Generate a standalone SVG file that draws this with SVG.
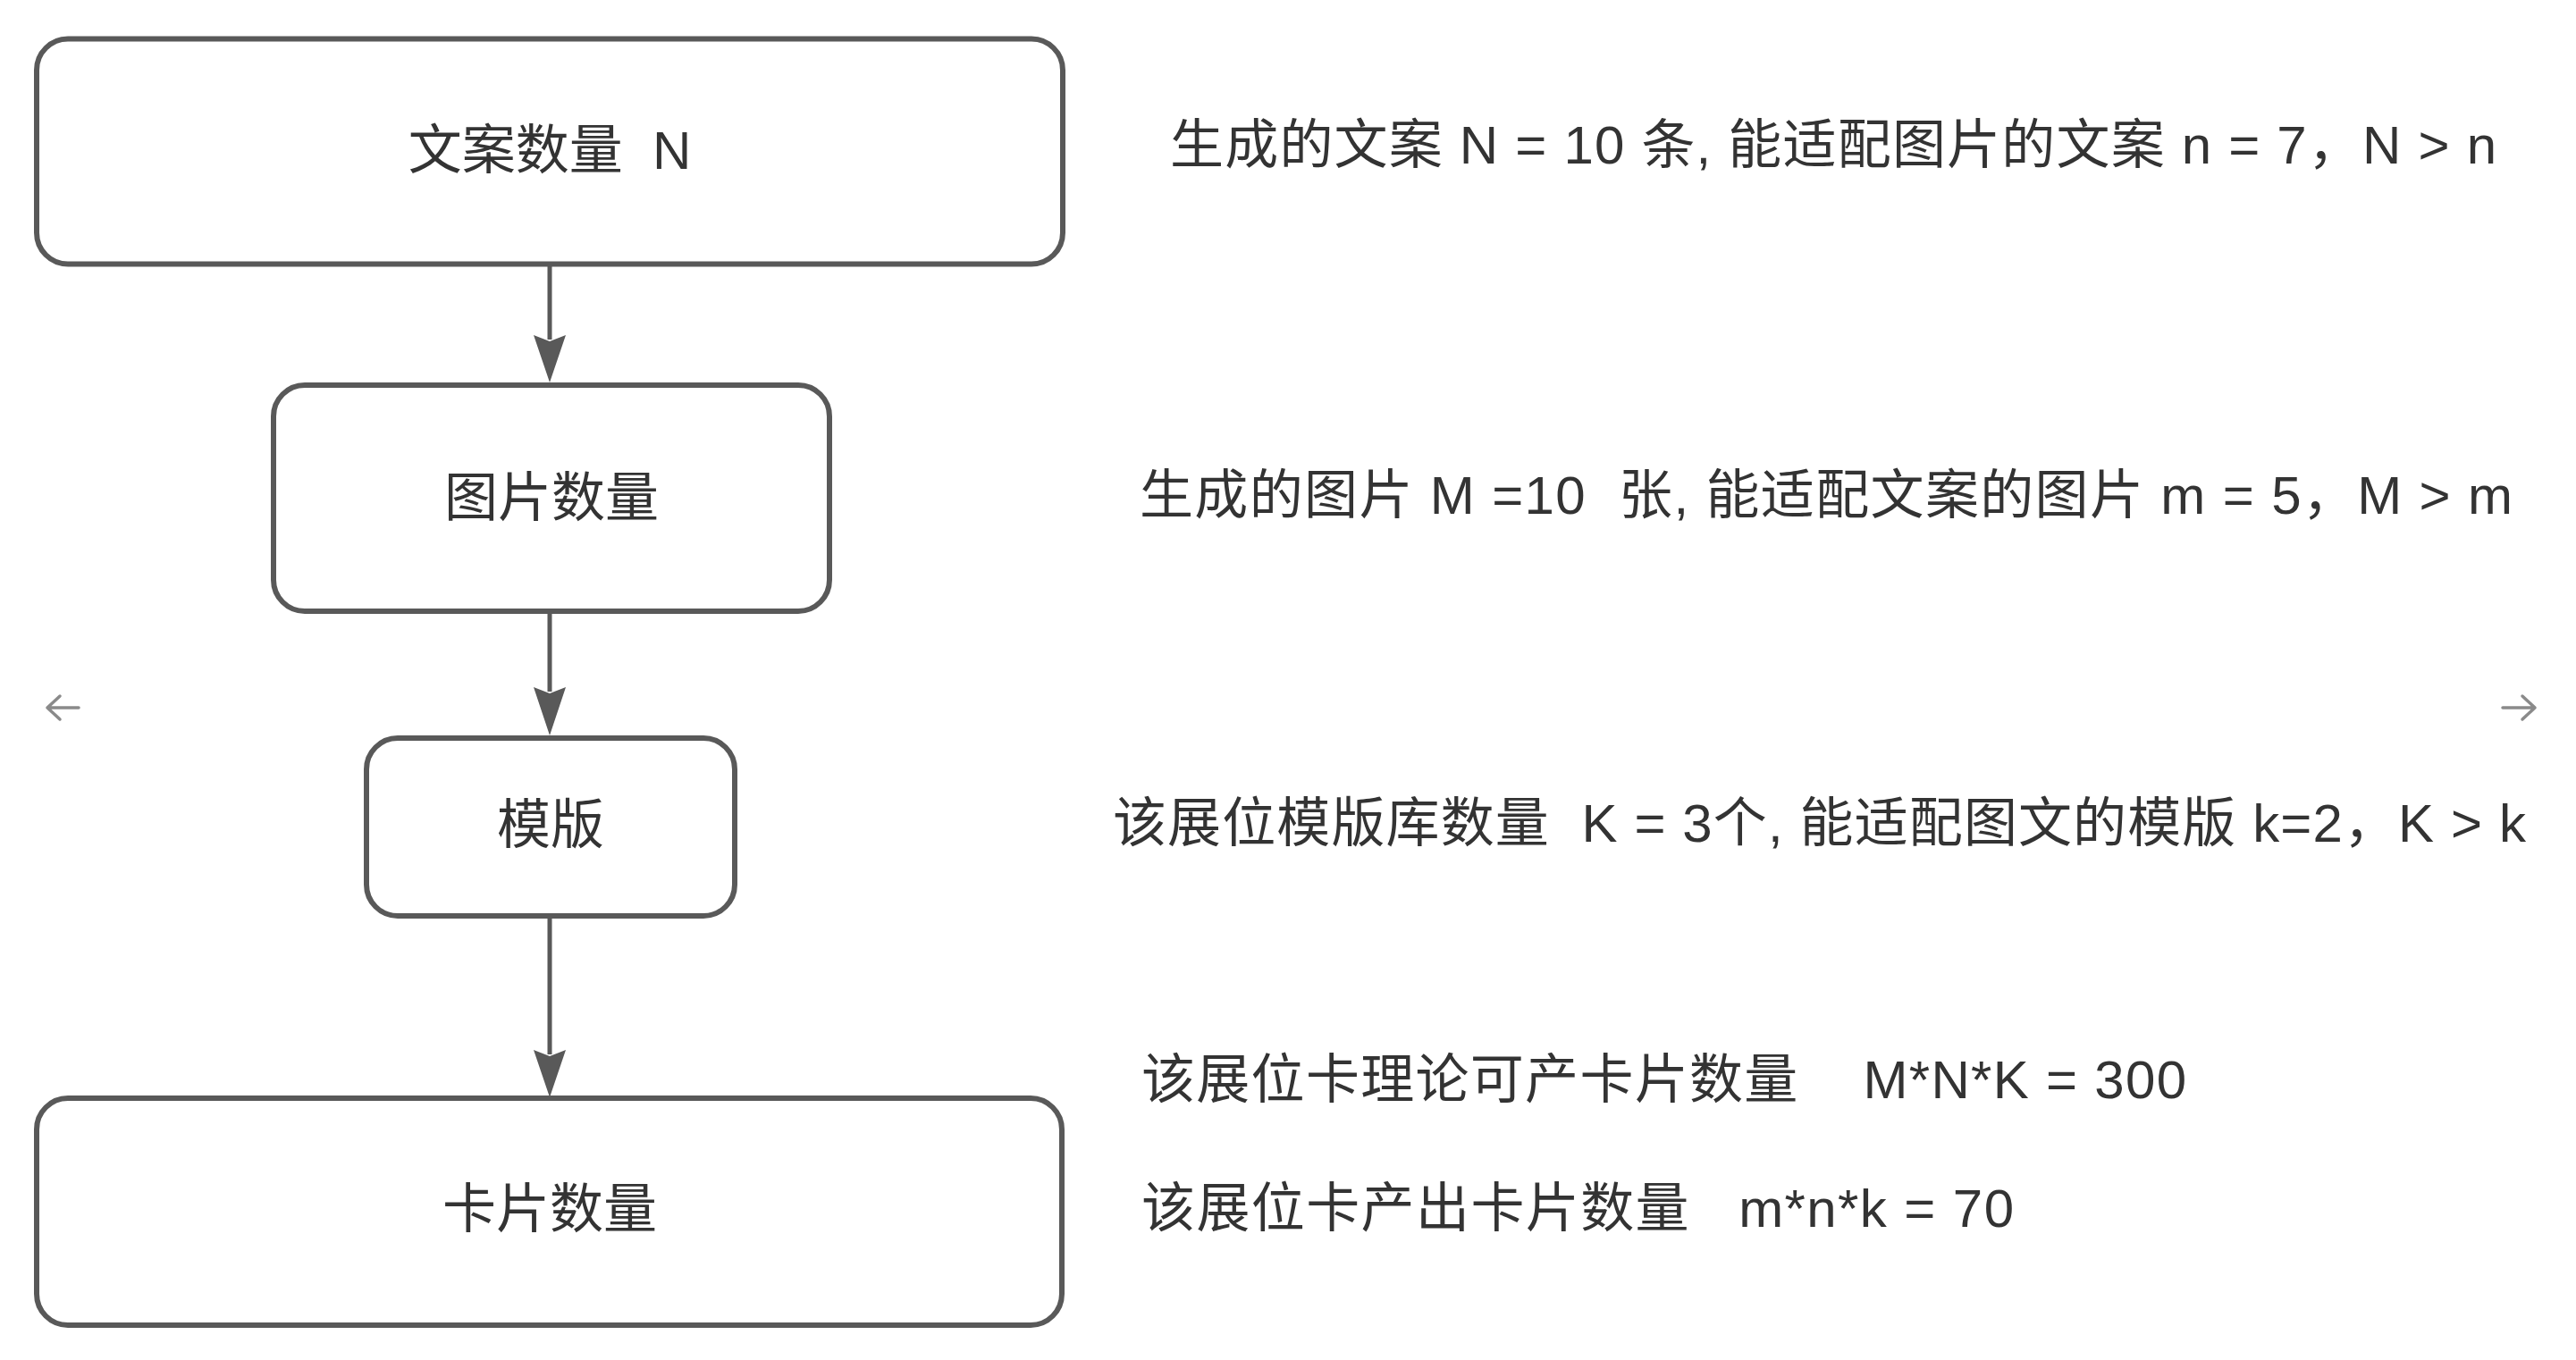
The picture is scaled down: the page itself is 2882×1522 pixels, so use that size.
<svg xmlns="http://www.w3.org/2000/svg" width="2882" height="1522" viewBox="0 0 2882 1522">
  <style>
    .box { fill: #ffffff; stroke: #595959; stroke-width: 6; }
    .lbl { font-family: "Liberation Sans", "Noto Sans CJK SC", sans-serif; font-size: 60px; fill: #333333; text-anchor: middle; dominant-baseline: central; white-space: pre; }
    .note { font-family: "Liberation Sans", "Noto Sans CJK SC", sans-serif; font-size: 60px; fill: #333333; dominant-baseline: central; white-space: pre; }
    .conn { stroke: #595959; stroke-width: 5; fill: none; }
    .head { fill: #595959; }
    .nav { stroke: #8a8a8a; stroke-width: 3.5; fill: none; stroke-linecap: round; stroke-linejoin: round; }
  </style>
  <rect width="2882" height="1522" fill="#ffffff"/>

  <g id="connectors">
    <line class="conn" x1="615" y1="298" x2="615" y2="380"/>
    <path class="head" d="M597,375 L615,382 L633,375 L615,428 Z"/>
    <line class="conn" x1="615" y1="686" x2="615" y2="774"/>
    <path class="head" d="M597,769 L615,776 L633,769 L615,823 Z"/>
    <line class="conn" x1="615" y1="1028" x2="615" y2="1180"/>
    <path class="head" d="M597,1175 L615,1182 L633,1175 L615,1228 Z"/>
  </g>

  <g id="node-copy">
    <rect class="box" x="41" y="43.5" width="1148" height="252" rx="35"/>
    <text class="lbl" x="615" y="168">文案数量  N</text>
  </g>
  <g id="node-image">
    <rect class="box" x="306" y="431" width="622" height="253" rx="35"/>
    <text class="lbl" x="617" y="557">图片数量</text>
  </g>
  <g id="node-template">
    <rect class="box" x="410" y="826" width="412" height="199" rx="35"/>
    <text class="lbl" x="616" y="923">模版</text>
  </g>
  <g id="node-card">
    <rect class="box" x="41" y="1229" width="1147" height="254" rx="35"/>
    <text class="lbl" x="615" y="1353">卡片数量</text>
  </g>

  <g id="notes">
    <text class="note" x="1309" y="162" textLength="1484" lengthAdjust="spacing">生成的文案 N = 10 条, 能适配图片的文案 n = 7，N &gt; n</text>
    <text class="note" x="1275" y="554" textLength="1536" lengthAdjust="spacing">生成的图片 M =10  张, 能适配文案的图片 m = 5，M &gt; m</text>
    <text class="note" x="1245" y="921" textLength="1581" lengthAdjust="spacing">该展位模版库数量  K = 3个, 能适配图文的模版 k=2，K &gt; k</text>
    <text class="note" x="1277" y="1208" textLength="1169" lengthAdjust="spacing">该展位卡理论可产卡片数量    M*N*K = 300</text>
    <text class="note" x="1277" y="1352" textLength="976" lengthAdjust="spacing">该展位卡产出卡片数量   m*n*k = 70</text>
  </g>

  <g id="nav-arrows">
    <path class="nav" d="M88,792 L53,792 M67,779 L53,792 L67,805"/>
    <path class="nav" d="M2800,792 L2836,792 M2822,779 L2836,792 L2822,805"/>
  </g>
</svg>
